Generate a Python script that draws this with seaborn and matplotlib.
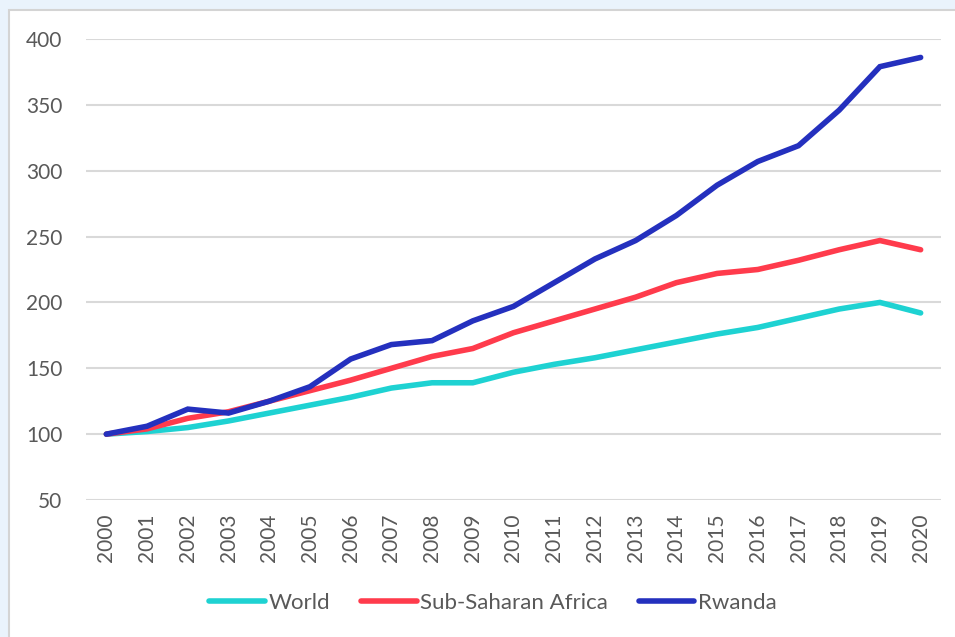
import matplotlib
matplotlib.use("Agg")
import matplotlib.pyplot as plt
from matplotlib.patches import Rectangle
from matplotlib.lines import Line2D
import seaborn as sns
import pandas as pd

years = list(range(2000, 2021))
world = [100, 102, 105, 110, 116, 122, 128, 135, 139, 139, 147, 153, 158, 164,
         170, 176, 181, 188, 195, 200, 192]
ssa = [100, 104, 112, 117, 125, 133, 141, 150, 159, 165, 177, 186, 195, 204,
       215, 222, 225, 232, 240, 247, 240]
rwanda = [100, 106, 119, 116, 125, 136, 157, 168, 171, 186, 197, 215, 233, 247,
          266, 289, 307, 319, 346, 379, 386]
series_names = ["World", "Sub-Saharan Africa", "Rwanda"]
colors = ["#1ED2D2", "#FF3B4C", "#2430BE"]
y_ticks = [50, 100, 150, 200, 250, 300, 350, 400]

df = pd.DataFrame({
    "year": years * 3,
    "value": world + ssa + rwanda,
    "series": [n for n in series_names for _ in years],
})

sns.set_theme(style="white")
plt.rcParams["font.family"] = ["Lato", "DejaVu Sans"]
text_color = "#595959"

fig = plt.figure(figsize=(9.55, 6.37), dpi=100)
fig.patch.set_facecolor("#EAF3FC")
# white chart panel with thin grey border
W, H = 955, 637
fig.patches.append(Rectangle((9 / W, -0.05), 1.0, 1 - 10 / H + 0.05,
                             transform=fig.transFigure, facecolor="white",
                             edgecolor="#D4D4D4", linewidth=1.5, zorder=-5))

ax = fig.add_axes([86 / W, 1 - 500 / H, (941 - 86) / W, (500 - 39) / H])
ax.set_facecolor("none")

sns.lineplot(data=df, x="year", y="value", hue="series", hue_order=series_names,
             palette=colors, linewidth=4, ax=ax, legend=False,
             solid_capstyle="round", solid_joinstyle="miter")

ax.set_xlim(1999.5, 2020.5)
ax.set_ylim(50, 400)
ax.set_yticks(y_ticks)
ax.set_xticks(years)
ax.set_xticklabels([str(y) for y in years], rotation=90)
ax.grid(axis="y", color="#D9D9D9", linewidth=1.5)
ax.set_axisbelow(True)
for s in ax.spines.values():
    s.set_visible(False)
ax.tick_params(axis="both", length=0, labelsize=15, labelcolor=text_color)
ax.tick_params(axis="y", pad=17)
ax.tick_params(axis="x", pad=10)
ax.set_xlabel("")
ax.set_ylabel("")

handles = [Line2D([], [], color=c, linewidth=4, solid_capstyle="round") for c in colors]
fig.legend(handles, series_names, loc="center", bbox_to_anchor=(493 / W, 1 - 603 / H),
           ncol=3, frameon=False, fontsize=16, labelcolor=text_color,
           handlelength=2.5, handletextpad=0.15, columnspacing=1.4)

fig.savefig("out.png", dpi=100, facecolor=fig.get_facecolor())
